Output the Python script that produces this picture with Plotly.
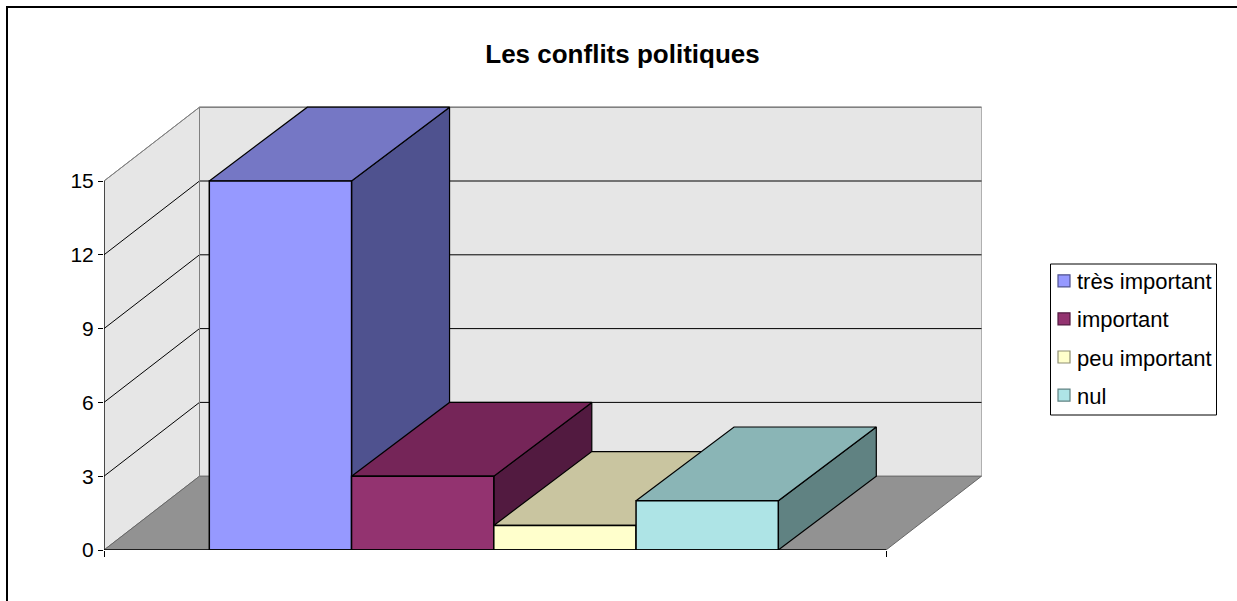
import plotly.graph_objects as go

TITLE = "Les conflits politiques"
categories = ["très important", "important", "peu important", "nul"]
values = [15, 3, 1, 2]
front_colors = ["#9699FF", "#933370", "#FFFFCC", "#AEE4E6"]
top_colors = ["#7577C5", "#752558", "#C9C5A0", "#8AB5B6"]
side_colors = ["#4F528F", "#521A40", "#8F8F72", "#608282"]
tick_values = [0, 3, 6, 9, 12, 15]

WALL_COLOR = "#E6E6E6"
FLOOR_COLOR = "#929292"
EDGE_GREY = "#808080"

# Oblique projection, expressed in axis units
CAT_PX = 142.25
FLOOR_W = 782 / CAT_PX
GAP = 105.3 / CAT_PX
DEPTH_X_WALL = 95.5 / CAT_PX
DEPTH_X_BAR = 98 / CAT_PX
DEPTH_Y = 3.0
TOP = max(tick_values)


def wall_pt(c, v, d):
    return c + d * DEPTH_X_WALL, v + d * DEPTH_Y


def bar_pt(c, v, d):
    return c + d * DEPTH_X_BAR, v + d * DEPTH_Y


fig = go.Figure()


def poly(points, fill, line="#000000", width=1.0):
    xs = [p[0] for p in points] + [points[0][0]]
    ys = [p[1] for p in points] + [points[0][1]]
    fig.add_trace(go.Scatter(x=xs, y=ys, mode="lines", fill="toself", fillcolor=fill,
                             line=dict(color=line, width=width), showlegend=False,
                             hoverinfo="skip"))


def path(points, color, width=1.0):
    fig.add_trace(go.Scatter(x=[p[0] for p in points], y=[p[1] for p in points], mode="lines",
                             line=dict(color=color, width=width), showlegend=False,
                             hoverinfo="skip"))


# Walls and floor
poly([wall_pt(0, 0, 0), wall_pt(0, TOP, 0), wall_pt(0, TOP, 1), wall_pt(0, 0, 1)], WALL_COLOR, EDGE_GREY)
poly([wall_pt(0, 0, 1), wall_pt(0, TOP, 1), wall_pt(FLOOR_W, TOP, 1), wall_pt(FLOOR_W, 0, 1)], WALL_COLOR, "#B0B0B0")
path([wall_pt(0, TOP, 1), wall_pt(FLOOR_W, TOP, 1)], EDGE_GREY, 1.5)
poly([wall_pt(0, 0, 0), wall_pt(0, 0, 1), wall_pt(FLOOR_W, 0, 1), wall_pt(FLOOR_W, 0, 0)], FLOOR_COLOR, "#666666")

# Gridlines on the walls
for v in tick_values[1:-1]:
    path([wall_pt(0, v, 0), wall_pt(0, v, 1), wall_pt(FLOOR_W, v, 1)], "#000000", 1)
path([wall_pt(0, TOP, 0), wall_pt(0, TOP, 1)], EDGE_GREY, 1)
path([wall_pt(0, TOP, 1), wall_pt(0, 0, 1)], EDGE_GREY, 1)

# Bars, left to right
for i, v in enumerate(values):
    c0 = GAP + i
    c1 = c0 + 1
    poly([bar_pt(c1, 0, 0), bar_pt(c1, v, 0), bar_pt(c1, v, 1), bar_pt(c1, 0, 1)], side_colors[i], width=1.2)
    poly([bar_pt(c0, v, 0), bar_pt(c0, v, 1), bar_pt(c1, v, 1), bar_pt(c1, v, 0)], top_colors[i], width=1.2)
    poly([bar_pt(c0, 0, 0), bar_pt(c0, v, 0), bar_pt(c1, v, 0), bar_pt(c1, 0, 0)], front_colors[i], width=1.5)

# Axis lines
path([wall_pt(0, 0, 0), wall_pt(0, TOP, 0)], "#000000", 1.2)
path([wall_pt(0, 0, 0), wall_pt(FLOOR_W, 0, 0)], "#000000", 1.6)

# Legend entries
for name, col, edge in zip(categories, front_colors, side_colors):
    fig.add_trace(go.Scatter(x=[None], y=[None], mode="markers", name=name, legendgroup=name,
                             marker=dict(symbol="square", size=12, color=col,
                                         line=dict(color=edge, width=1.2))))

fig.update_xaxes(range=[0, 886 / CAT_PX], tickvals=[0, FLOOR_W], ticktext=["", ""], ticks="outside",
                 ticklen=6, tickcolor="#000000", tickwidth=1.2, showgrid=False, zeroline=False,
                 showline=False)
fig.update_yaxes(range=[0, 450 / 24.6], tickvals=tick_values, ticks="outside", ticklen=5,
                 tickcolor="#000000", tickwidth=1.2, showgrid=False, zeroline=False, showline=False,
                 tickfont=dict(family="Liberation Sans", size=21, color="#000000"))

fig.update_layout(
    width=1237, height=601, autosize=False,
    margin=dict(l=104, r=247, t=100, b=51),
    paper_bgcolor="#FFFFFF", plot_bgcolor="#FFFFFF",
    title=dict(text=f"<b>{TITLE}</b>", x=622.5 / 1237, xanchor="center", y=1 - 54 / 601, yanchor="middle",
               font=dict(family="Liberation Sans", size=26, color="#000000")),
    legend=dict(x=(1037 - 104) / 886, xanchor="left", y=(550 - 260) / 450, yanchor="top",
                bgcolor="rgba(0,0,0,0)", borderwidth=0,
                font=dict(family="Liberation Sans", size=22, color="#000000"),
                tracegroupgap=6.5),
    shapes=[dict(type="rect", xref="paper", yref="paper",
                 x0=(7 - 104) / 886, x1=(1300 - 104) / 886,
                 y0=(550 - 660) / 450, y1=(550 - 7) / 450,
                 line=dict(color="#000000", width=2), fillcolor="rgba(0,0,0,0)"),
            dict(type="rect", xref="paper", yref="paper",
                 x0=(1050.5 - 104) / 886, x1=(1216.5 - 104) / 886,
                 y0=(550 - 415) / 450, y1=(550 - 264) / 450,
                 line=dict(color="#000000", width=1), fillcolor="rgba(0,0,0,0)")],
)

fig.write_html(
    "out.html",
    config={"displayModeBar": False},
    post_script=(
        "document.body.style.margin='0';document.body.style.overflow='hidden';"
        "document.querySelectorAll('.legend .legendpoints').forEach(function(g){"
        "g.setAttribute('transform','translate(7,0)');});"
    ),
)
